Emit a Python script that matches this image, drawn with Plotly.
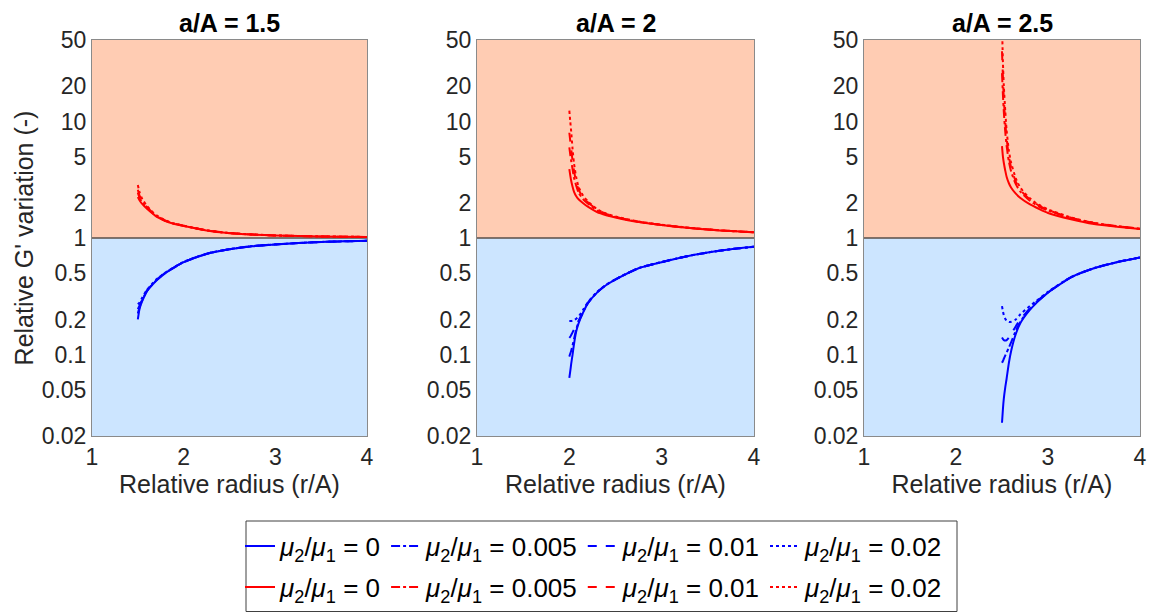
import plotly.graph_objects as go

# ---- data -----------------------------------------------------------------
ratios = ["0", "0.005", "0.01", "0.02"]          # mu2/mu1
dashes = ["solid", "dashdot", "dash", "dot"]
panel_titles = ["a/A = 1.5", "a/A = 2", "a/A = 2.5"]

# a/A = 1.5
x_15 = [1.5, 1.52, 1.55, 1.6, 1.65, 1.7, 1.8, 1.9, 2.0, 2.25, 2.5, 2.75, 3.0, 3.5, 4.0]
red_15 = [
    [2.25, 2.10, 1.95, 1.78, 1.65, 1.53, 1.40, 1.32, 1.27, 1.16, 1.10, 1.07, 1.05, 1.03, 1.02],
    [2.45, 2.20, 2.00, 1.81, 1.665, 1.54, 1.405, 1.322, 1.271, 1.162, 1.101, 1.071, 1.051, 1.03, 1.02],
    [2.60, 2.30, 2.07, 1.84, 1.68, 1.55, 1.41, 1.325, 1.272, 1.163, 1.102, 1.072, 1.052, 1.031, 1.021],
    [2.85, 2.45, 2.15, 1.88, 1.71, 1.57, 1.42, 1.33, 1.275, 1.165, 1.104, 1.073, 1.053, 1.032, 1.021],
]
blue_15 = [
    [0.20, 0.25, 0.29, 0.35, 0.39, 0.43, 0.50, 0.56, 0.62, 0.73, 0.80, 0.85, 0.88, 0.925, 0.945],
    [0.225, 0.255, 0.295, 0.352, 0.392, 0.432, 0.502, 0.561, 0.621, 0.731, 0.801, 0.851, 0.881, 0.925, 0.945],
    [0.245, 0.265, 0.30, 0.355, 0.395, 0.435, 0.503, 0.562, 0.622, 0.732, 0.802, 0.851, 0.881, 0.926, 0.946],
    [0.27, 0.28, 0.31, 0.36, 0.40, 0.44, 0.505, 0.565, 0.625, 0.734, 0.803, 0.852, 0.882, 0.926, 0.946],
]

# a/A = 2
x_20 = [2.0, 2.01, 2.02, 2.035, 2.05, 2.075, 2.1, 2.15, 2.2, 2.3, 2.4, 2.5, 2.75, 3.0, 3.25, 3.5, 3.75, 4.0]
red_20 = [
    [3.9, 3.45, 3.1, 2.75, 2.5, 2.28, 2.15, 1.99, 1.86, 1.67, 1.57, 1.50, 1.37, 1.29, 1.228, 1.18, 1.146, 1.12],
    [6.0, 5.2, 4.6, 3.9, 3.3, 2.8, 2.45, 2.15, 1.98, 1.72, 1.59, 1.51, 1.375, 1.293, 1.23, 1.182, 1.147, 1.12],
    [8.0, 6.8, 5.8, 4.6, 3.8, 3.0, 2.6, 2.22, 2.03, 1.75, 1.61, 1.52, 1.38, 1.295, 1.232, 1.183, 1.148, 1.12],
    [12.4, 10.0, 8.2, 5.8, 4.4, 3.3, 2.75, 2.3, 2.07, 1.77, 1.62, 1.53, 1.385, 1.30, 1.235, 1.185, 1.15, 1.12],
]
blue_20 = [
    [0.063, 0.072, 0.083, 0.10, 0.122, 0.158, 0.185, 0.23, 0.275, 0.34, 0.395, 0.44, 0.55, 0.62, 0.69, 0.75, 0.80, 0.84],
    [0.096, 0.102, 0.108, 0.12, 0.135, 0.165, 0.19, 0.232, 0.276, 0.341, 0.396, 0.441, 0.551, 0.621, 0.691, 0.751, 0.801, 0.841],
    [0.139, 0.142, 0.147, 0.155, 0.163, 0.178, 0.195, 0.235, 0.277, 0.342, 0.397, 0.442, 0.551, 0.621, 0.691, 0.751, 0.801, 0.841],
    [0.194, 0.194, 0.194, 0.195, 0.197, 0.203, 0.212, 0.243, 0.28, 0.345, 0.398, 0.443, 0.552, 0.622, 0.692, 0.752, 0.802, 0.842],
]

# a/A = 2.5
x_25 = [2.5, 2.51, 2.52, 2.535, 2.55, 2.575, 2.6, 2.65, 2.7, 2.8, 2.9, 3.0, 3.25, 3.5, 3.75, 4.0]
red_25 = [
    [6.15, 5.0, 4.4, 3.8, 3.36, 2.95, 2.7, 2.4, 2.2, 1.95, 1.78, 1.64, 1.45, 1.32, 1.25, 1.195],
    [26, 17, 12, 8.2, 6.2, 4.5, 3.7, 2.9, 2.5, 2.1, 1.86, 1.72, 1.48, 1.34, 1.26, 1.2],
    [40, 24, 15.5, 10, 7.2, 5.0, 4.0, 3.05, 2.58, 2.15, 1.9, 1.74, 1.49, 1.345, 1.262, 1.2],
    [70, 32, 20, 12.5, 8.4, 5.6, 4.4, 3.25, 2.7, 2.2, 1.93, 1.76, 1.5, 1.35, 1.265, 1.2],
]
blue_25 = [
    [0.026, 0.034, 0.042, 0.052, 0.062, 0.085, 0.108, 0.15, 0.186, 0.24, 0.29, 0.34, 0.46, 0.55, 0.62, 0.68],
    [0.085, 0.088, 0.092, 0.098, 0.104, 0.115, 0.128, 0.16, 0.192, 0.244, 0.292, 0.341, 0.46, 0.55, 0.62, 0.68],
    [0.14, 0.136, 0.133, 0.132, 0.133, 0.14, 0.15, 0.175, 0.20, 0.248, 0.295, 0.342, 0.461, 0.551, 0.621, 0.681],
    [0.26, 0.235, 0.218, 0.203, 0.195, 0.19, 0.191, 0.20, 0.222, 0.26, 0.30, 0.345, 0.462, 0.552, 0.622, 0.682],
]

panels = [(x_15, red_15, blue_15), (x_20, red_20, blue_20), (x_25, red_25, blue_25)]

x_ticks = [1, 2, 3, 4]
y_ticks = [0.02, 0.05, 0.1, 0.2, 0.5, 1, 2, 5, 10, 20, 50]
y_tick_text = ["0.02", "0.05", "0.1", "0.2", "0.5", "1", "2", "5", "10", "20", "50"]
X_MIN, X_MAX = 1, 4
Y_MIN, Y_MAX = 0.02, 50
THRESHOLD = 1

# ---- styling ------------------------------------------------------------------
W, H = 1152, 612
FONT = "Liberation Sans, Arial, Helvetica, sans-serif"
RED, BLUE = "#ff0000", "#0000ff"
FILL_UP, FILL_DOWN = "#ffccb3", "#cce5ff"
x_px = [(92, 367), (477, 754), (864, 1140)]
y_px = (40, 436)

def label(r):
    return "<i>μ</i><sub>2</sub>/<i>μ</i><sub>1</sub> = " + r

fig = go.Figure()
shapes, annotations = [], []

for p, (xs, reds, blues) in enumerate(panels):
    sfx = "" if p == 0 else str(p + 1)
    xa, ya = "x" + sfx, "y" + sfx
    for k in range(4):
        fig.add_trace(go.Scatter(
            x=xs, y=blues[k], mode="lines", xaxis=xa, yaxis=ya,
            line=dict(color=BLUE, width=2, dash=dashes[k],
                      shape="spline", smoothing=0.6),
            name=label(ratios[k]), legend="legend",
            showlegend=(p == 0), hoverinfo="skip"))
    for k in range(4):
        fig.add_trace(go.Scatter(
            x=xs, y=reds[k], mode="lines", xaxis=xa, yaxis=ya,
            line=dict(color=RED, width=2, dash=dashes[k],
                      shape="spline", smoothing=0.6),
            name=label(ratios[k]), legend="legend2",
            showlegend=(p == 0), hoverinfo="skip"))

    # shaded regions above / below unity and the unity line
    shapes.append(dict(type="rect", xref=xa, yref=ya, x0=X_MIN, x1=X_MAX,
                       y0=THRESHOLD, y1=Y_MAX, fillcolor=FILL_UP,
                       line=dict(width=0), layer="below"))
    shapes.append(dict(type="rect", xref=xa, yref=ya, x0=X_MIN, x1=X_MAX,
                       y0=Y_MIN, y1=THRESHOLD, fillcolor=FILL_DOWN,
                       line=dict(width=0), layer="below"))
    shapes.append(dict(type="line", xref=xa, yref=ya, x0=X_MIN, x1=X_MAX,
                       y0=THRESHOLD, y1=THRESHOLD,
                       line=dict(color="#5a4e48", width=1.5), layer="below"))

    x0, x1 = x_px[p]
    axis_x = dict(domain=[x0 / W, x1 / W], anchor=ya, range=[X_MIN, X_MAX],
                  automargin=False,
                  tickvals=x_ticks, ticks="", showgrid=False, zeroline=False,
                  showline=True, mirror=True, linecolor="#8a8a8a", linewidth=1,
                  tickfont=dict(family=FONT, size=23, color="#262626"),
                  title=dict(text="Relative radius (r/A)", standoff=5,
                             font=dict(family=FONT, size=25, color="#262626")))
    axis_y = dict(domain=[1 - y_px[1] / H, 1 - y_px[0] / H], anchor=xa,
                  type="log", range=[-1.69897, 1.69897], automargin=False,
                  tickvals=y_ticks, ticktext=y_tick_text, ticks="",
                  showgrid=False, zeroline=False,
                  showline=True, mirror=True, linecolor="#8a8a8a", linewidth=1,
                  tickfont=dict(family=FONT, size=23, color="#262626"))
    if p == 0:
        axis_y["title"] = dict(text="Relative G' variation (-)", standoff=0,
                               font=dict(family=FONT, size=25, color="#262626"))
    fig.update_layout(**{"xaxis" + sfx: axis_x, "yaxis" + sfx: axis_y})

    annotations.append(dict(text="<b>" + panel_titles[p] + "</b>",
                            xref=xa + " domain", yref=ya + " domain",
                            x=0.5, y=1, xanchor="center", yanchor="bottom",
                            yshift=1, showarrow=False,
                            font=dict(family=FONT, size=25, color="#000000")))

# legend frame
shapes.append(dict(type="rect", xref="paper", yref="paper",
                   x0=246 / W, x1=957 / W, y0=1 - 611.5 / H, y1=1 - 521 / H,
                   line=dict(color="#404040", width=1), fillcolor="white",
                   layer="below"))

leg_common = dict(orientation="h", xanchor="left", yanchor="middle",
                  bgcolor="rgba(0,0,0,0)", borderwidth=0,
                  font=dict(family=FONT, size=26, color="#000000"),
                  itemwidth=30, itemclick=False, itemdoubleclick=False)

fig.update_layout(
    width=W, height=H,
    margin=dict(l=0, r=0, t=0, b=0, autoexpand=False),
    paper_bgcolor="white", plot_bgcolor="rgba(0,0,0,0)",
    shapes=shapes, annotations=annotations,
    legend=dict(x=240 / W, y=1 - 546 / H, **leg_common),
    legend2=dict(x=240 / W, y=1 - 587 / H, **leg_common),
)

fig.write_html("out.html")
